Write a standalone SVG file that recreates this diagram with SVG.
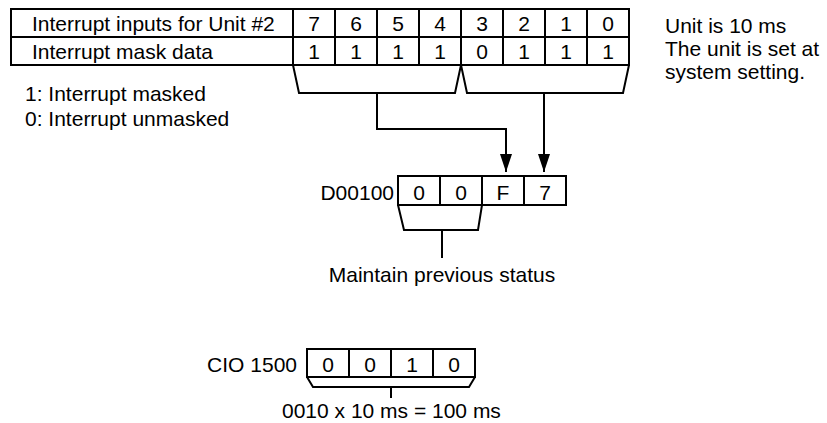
<svg xmlns="http://www.w3.org/2000/svg" width="827" height="423" viewBox="0 0 827 423">
<style>
text{font-family:"Liberation Sans",Arial,sans-serif;font-size:21px;fill:#000}
.c{text-anchor:middle}
.e{text-anchor:end}
.box{fill:#fff;stroke:#000;stroke-width:2}
.ln{fill:none;stroke:#000;stroke-width:2}
</style>
<defs>
<marker id="ah" viewBox="0 0 12 18" refX="12" refY="6" markerWidth="12" markerHeight="18" markerUnits="userSpaceOnUse" orient="auto">
<path d="M0,0 L18,6 L0,12 Z" fill="#000"/>
</marker>
<marker id="arr" viewBox="0 0 18 12" refX="18" refY="6" markerWidth="18" markerHeight="12" markerUnits="userSpaceOnUse" orient="auto">
<path d="M0,0 L18,6 L0,12 Z" fill="#000"/>
</marker>
</defs>
<g id="mask-table">
<rect class="box" x="11" y="9" width="618" height="56"/>
<line class="ln" x1="11" y1="37" x2="629" y2="37"/>
<path class="ln" d="M293,9V65M335,9V65M377,9V65M419,9V65M461,9V65M503,9V65M545,9V65M587,9V65"/>
<text x="32" y="31">Interrupt inputs for Unit #2</text>
<text x="32" y="59">Interrupt mask data</text>
<g class="c">
<text x="314" y="31">7</text><text x="356" y="31">6</text><text x="398" y="31">5</text><text x="440" y="31">4</text>
<text x="482" y="31">3</text><text x="524" y="31">2</text><text x="566" y="31">1</text><text x="608" y="31">0</text>
<text x="314" y="59">1</text><text x="356" y="59">1</text><text x="398" y="59">1</text><text x="440" y="59">1</text>
<text x="482" y="59">0</text><text x="524" y="59">1</text><text x="566" y="59">1</text><text x="608" y="59">1</text>
</g>
</g>
<g id="unit-note">
<text x="665" y="33">Unit is 10 ms</text>
<text x="665" y="56">The unit is set at</text>
<text x="665" y="79">system setting.</text>
</g>
<g id="legend">
<text x="25" y="101">1: Interrupt masked</text>
<text x="25" y="126">0: Interrupt unmasked</text>
</g>
<g id="d00100">
<text class="e" x="394" y="200">D00100</text>
<rect class="box" x="398" y="176" width="168" height="29"/>
<path class="ln" d="M440,176V205M482,176V205M524,176V205"/>
<g class="c">
<text x="419" y="200">0</text><text x="461" y="200">0</text><text x="503" y="200">F</text><text x="545" y="200">7</text>
</g>
</g>
<g id="maintain-label">
<text class="c" x="442" y="282">Maintain previous status</text>
</g>
<g id="cio1500">
<text class="e" x="297" y="372">CIO 1500</text>
<rect class="box" x="307" y="349" width="168" height="28"/>
<path class="ln" d="M349,349V377M391,349V377M433,349V377"/>
<g class="c">
<text x="328" y="372">0</text><text x="370" y="372">0</text><text x="412" y="372">1</text><text x="454" y="372">0</text>
</g>
</g>
<g id="cio-label">
<text x="282" y="418">0010 x 10 ms = 100 ms</text>
</g>
<g id="connectors">
<polyline class="ln" points="293,65 299,93 455,93 461,65 467,93 623,93 629,65"/>
<polyline class="ln" points="377,93 377,129 506,129 506,172" marker-end="url(#arr)"/>
<polyline class="ln" points="544,93 544,172" marker-end="url(#arr)"/>
<polyline class="ln" points="398,205 404,230 478,230 482,205"/>
<line class="ln" x1="442" y1="230" x2="442" y2="258"/>
<polyline class="ln" points="307,377 313,387 469,387 475,377"/>
<line class="ln" x1="391" y1="387" x2="391" y2="398"/>
</g>
</svg>
